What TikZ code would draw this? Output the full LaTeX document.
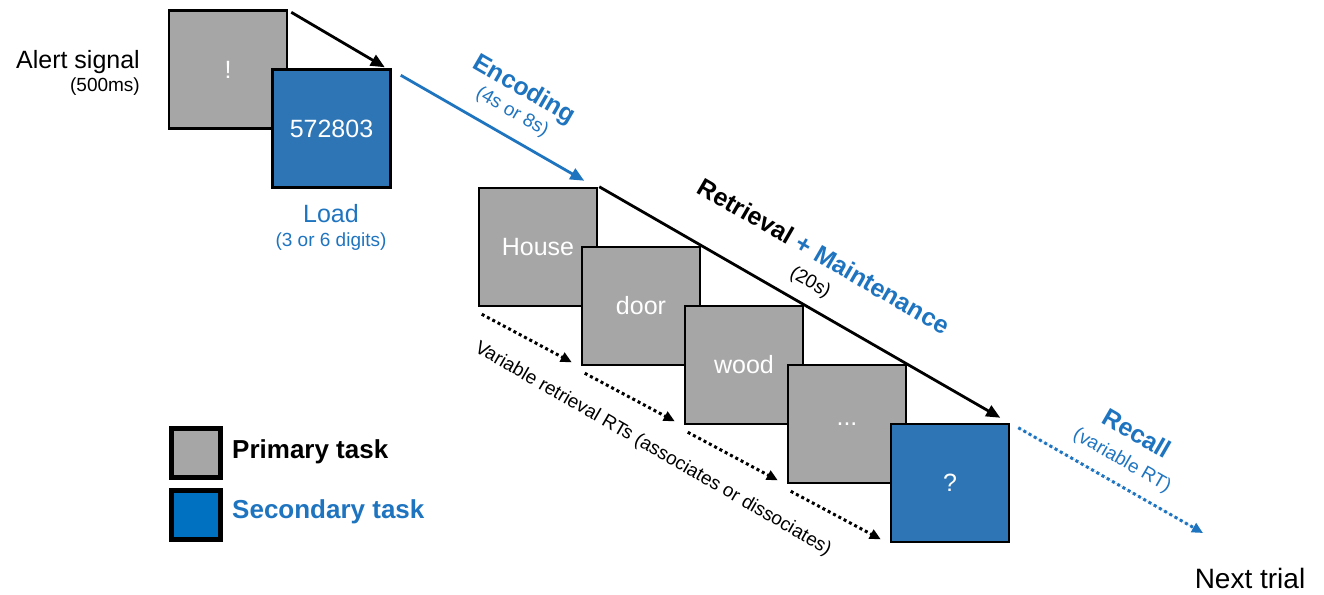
\documentclass[tikz,border=0pt]{standalone}
\usepackage{fontspec}
\setmainfont{Liberation Sans}
\usetikzlibrary{arrows.meta,calc}
\definecolor{boxgray}{HTML}{A6A6A6}
\definecolor{boxblue}{HTML}{2E75B6}
\definecolor{txtblue}{HTML}{1F74C0}
\definecolor{legblue}{HTML}{0070C0}
\newcommand{\fbig}{\fontsize{25}{30}\selectfont}
\newcommand{\fsmall}{\fontsize{19}{23}\selectfont}
\begin{document}
\begin{tikzpicture}[x=1pt,y=-1pt,
  screen/.style={draw=black, line width=2.5pt, minimum width=118pt, minimum height=118pt, inner sep=0pt, text=white, font=\fbig},
  grayscreen/.style={screen, fill=boxgray},
  bluescreen/.style={screen, fill=boxblue},
  legbox/.style={draw=black, line width=5pt, minimum width=49pt, minimum height=49pt, inner sep=0pt},
  solidarrow/.style={line width=2.8pt, -{Triangle[length=14pt,width=12pt]}},
  dotarrow/.style={line width=3pt, dash pattern=on 3pt off 3pt, -{Triangle[length=11pt,width=10pt]}},
  lbl/.style={inner sep=0pt},
  rot/.style={inner sep=0pt, rotate=-30}
]
\useasboundingbox (0,0) rectangle (1324,594);

% top screens
\node[grayscreen] (alert) at (228,69.5) {!};
\node[bluescreen] (load) at (331.5,128.5) {572803};

% labels left
\node[lbl, anchor=base east, font=\fbig] (alertlbl) at (140,68) {Alert signal};
\node[lbl, anchor=base east, font=\fsmall] (alertdur) at (140,92) {(500ms)};
\node[lbl, anchor=base, font=\fbig, text=txtblue] (loadlbl) at (331,222) {Load};
\node[lbl, anchor=base, font=\fsmall, text=txtblue] (loaddur) at (331,246) {(3 or 6 digits)};

% sequence screens
\node[grayscreen] (house) at (538,247) {House};
\node[grayscreen] (door) at (641,306) {door};
\node[grayscreen] (wood) at (744,365) {wood};
\node[grayscreen] (dots) at (847,424) {...};
\node[bluescreen] (quest) at (950,483) {?};

% arrows
\draw[solidarrow] ($(alert.north east)+(3,3)$) -- ($(load.north east)+(-7,-1)$);
\draw[solidarrow, draw=txtblue, fill=txtblue] ($(load.north east)+(9,7)$) -- ($(house.north east)+(-14,-6)$);
\draw[solidarrow] ($(house.north east)+(1,0)$) -- ($(quest.north east)+(-10,-5)$);
\draw[dotarrow, draw=txtblue, fill=txtblue] ($(quest.north east)+(8,5)$) -- (1203,533) coordinate (recallend);

\draw[dotarrow] ($(house.south west)+(4,7)$) -- ($(door.south west)+(-9,-4)$);
\draw[dotarrow] ($(door.south west)+(4,7)$) -- ($(wood.south west)+(-9,-4)$);
\draw[dotarrow] ($(wood.south west)+(4,7)$) -- ($(dots.south west)+(-9,-4)$);
\draw[dotarrow] ($(dots.south west)+(4,7)$) -- ($(quest.south west)+(-9,-4)$);

% rotated labels
\node[rot, font=\fbig\bfseries, text=txtblue] (enc) at (524,90) {Encoding};
\node[rot, font=\fsmall, text=txtblue] (encdur) at (512,112) {(4s or 8s)};
\node[rot, font=\fbig\bfseries] (retr) at (824,256) {Retrieval \textcolor{txtblue}{+ Maintenance}};
\node[rot, font=\fsmall] (retrdur) at (810,283) {(20s)};
\node[rot, font=\fsmall] (varrt) at (653,449) {Variable retrieval RTs (associates or dissociates)};
\node[rot, font=\fbig\bfseries, text=txtblue] (recall) at (1137,433) {Recall};
\node[rot, font=\fsmall, text=txtblue] (recalldur) at (1122,461) {(variable RT)};
\node[lbl, font=\fontsize{28}{34}\selectfont] (next) at (1250,578) {Next trial};

% legend
\node[legbox, fill=boxgray] (legprim) at (196,453) {};
\node[legbox, fill=legblue] (legsec) at (196,514.5) {};
\node[lbl, anchor=west, font=\fontsize{26}{31}\selectfont\bfseries] (legprimlbl) at (232,452) {Primary task};
\node[lbl, anchor=west, font=\fontsize{26}{31}\selectfont\bfseries, text=txtblue] (legseclbl) at (232,512) {Secondary task};
\end{tikzpicture}
\end{document}
